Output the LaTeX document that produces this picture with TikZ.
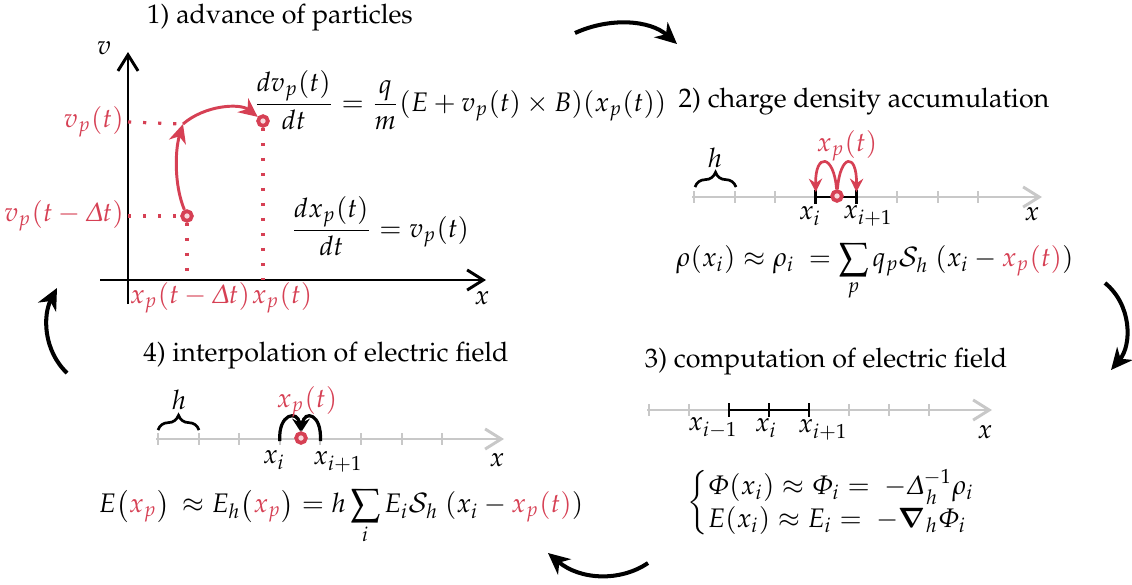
\documentclass[tikz,border=0pt]{standalone}
\usepackage[T1]{fontenc}
\usepackage{amsmath}
\usepackage[slantedGreek]{mathpazo}
\usetikzlibrary{arrows.meta,decorations.pathreplacing}
\definecolor{pred}{RGB}{214,64,84}
\definecolor{agray}{RGB}{200,200,200}
\tikzset{
  cyc/.style={line width=1.5pt,-{Stealth[length=8pt,width=7.5pt,inset=2.5pt]}},
  axisb/.style={line width=1.1pt,-{Straight Barb[length=6pt,width=7.5pt]}},
  gaxis/.style={agray,line width=1.1pt,-{Straight Barb[length=6pt,width=7.5pt]}},
  gtick/.style={agray,line width=0.8pt},
  btick/.style={black,line width=1pt},
  bline/.style={black,line width=1.1pt},
  pdotted/.style={pred,line width=1.2pt,dash pattern=on 1.2pt off 4.4pt},
  rarr/.style={pred,line width=1.1pt,-{Stealth[length=7pt,width=6.5pt,inset=2.2pt]}},
  rarrs/.style={pred,line width=1pt,-{Stealth[length=5pt,width=5pt,inset=1.7pt]}},
  barr/.style={black,line width=1.2pt,-{Stealth[length=5pt,width=5pt,inset=1.7pt]}},
  pdot/.style={circle,draw=pred,line width=1.4pt,fill=pred!20!white,minimum size=3.6pt,inner sep=0pt},
  hbrace/.style={decorate,decoration={brace,amplitude=5.5pt},line width=1pt},
  lbl/.style={inner sep=1pt},
}
\begin{document}
\begin{tikzpicture}[x=0.3725pt,y=-0.3725pt]
\useasboundingbox (0,0) rectangle (1132,584);

% ---------- cycle arrows ----------
\coordinate (c1s) at (575,33);   \coordinate (c1e) at (677,44);
\coordinate (c2s) at (1105,283); \coordinate (c2e) at (1111,370);
\coordinate (c3s) at (648,563);  \coordinate (c3e) at (548,553);
\coordinate (c4s) at (67,373);   \coordinate (c4e) at (57,288);
\draw[cyc] (c1s) .. controls (610,17) and (650,20) .. (c1e);
\draw[cyc] (c2s) .. controls (1132,305) and (1132,345) .. (c2e);
\draw[cyc] (c3s) .. controls (620,582) and (580,580) .. (c3e);
\draw[cyc] (c4s) .. controls (43,350) and (43,315) .. (c4e);

% ---------- panel 1 ----------
\node[lbl] (t1) at (280,18) {1) advance of particles};
\coordinate (vbot) at (128,304); \coordinate (vtop) at (128,52);
\coordinate (xlft) at (100,280); \coordinate (xrgt) at (486,280);
\draw[axisb] (vbot) -- (vtop);
\draw[axisb] (xlft) -- (xrgt);
\node[lbl] (vlab) at (104,48) {$v$};
\node[lbl] (xlab) at (482,298) {$x$};
\node[pdot] (P0) at (187,216) {};
\node[pdot] (P1) at (263,121) {};
\coordinate (bend) at (183,124);
\coordinate (h1) at (128,122);
\coordinate (h0) at (128,216);
\coordinate (f0) at (187,280);
\coordinate (f1) at (263,280);
\draw[pdotted] (h1) -- (bend);
\draw[pdotted] (h0) -- (P0);
\draw[pdotted] (P0) -- (f0);
\draw[pdotted] (P1) -- (f1);
\draw[rarr] (P0) .. controls (174,185) and (175,150) .. (bend);
\draw[rarr] (bend) .. controls (205,105) and (240,103) .. (P1);
\node[lbl,pred,anchor=east] (lvp) at (127,122) {$v_p(t)$};
\node[lbl,pred,anchor=east] (lvp0) at (127,216) {$v_p(t-\Delta t)$};
\node[lbl,pred] (lxp0) at (190,298) {$x_p(t-\Delta t)$};
\node[lbl,pred] (lxp) at (282,298) {$x_p(t)$};
\node[lbl] (eq1) at (460,100) {$\dfrac{dv_p(t)}{dt} = \dfrac{q}{m}(E+v_p(t)\times B)(x_p(t))$};
\node[lbl] (eq2) at (380,226) {$\dfrac{dx_p(t)}{dt} = v_p(t)$};

% ---------- panel 2 ----------
\node[lbl] (t2) at (864,102) {2) charge density accumulation};
\coordinate (a2s) at (692,197); \coordinate (a2e) at (1042,197);
\draw[gaxis] (a2s) -- (a2e);
\foreach \k in {0,...,7} \draw[gtick] ({694+40.6*\k},191) -- ({694+40.6*\k},203);
\coordinate (xi2) at (815.8,197); \coordinate (xj2) at (856.4,197);
\draw[bline] (xi2) -- (xj2);
\draw[btick] (815.8,190) -- (815.8,204);
\draw[btick] (856.4,190) -- (856.4,204);
\coordinate (xi2t) at (815.8,192); \coordinate (xj2t) at (856.4,192);
\node[pdot] (c2) at (837,196) {};
\draw[rarrs] (c2) .. controls (834,154) and (815,152) .. (xi2t);
\draw[rarrs] (c2) .. controls (840,154) and (857,152) .. (xj2t);
\draw[hbrace] (695,187) -- (736,187);
\node[lbl] (h2) at (715,158) {$h$};
\node[lbl,pred] (xp2) at (847,146) {$x_p(t)$};
\node[lbl] (lxi2) at (810,216) {$x_i$};
\node[lbl] (lxj2) at (868,216) {$x_{i+1}$};
\node[lbl] (lx2) at (1032,214) {$x$};
\node[lbl] (eq3) at (875,272) {$\displaystyle \rho(x_i)\approx\rho_i\ = \sum_p q_p\mathcal{S}_h\ (x_i-\textcolor{pred}{x_p(t)})$};

% ---------- panel 3 ----------
\node[lbl] (t3) at (826,362) {3) computation of electric field};
\coordinate (a3s) at (647,410); \coordinate (a3e) at (992,410);
\draw[gaxis] (a3s) -- (a3e);
\foreach \k in {0,...,7} \draw[gtick] ({649+40*\k},404) -- ({649+40*\k},416);
\coordinate (xa3) at (729,410); \coordinate (xc3) at (809,410);
\draw[bline] (xa3) -- (xc3);
\foreach \xx in {729,769,809} \draw[btick] (\xx,403) -- (\xx,417);
\node[lbl] (lxh3) at (713,428) {$x_{i-1}$};
\node[lbl] (lxi3) at (766,428) {$x_i$};
\node[lbl] (lxj3) at (823,430) {$x_{i+1}$};
\node[lbl] (lx3) at (985,432) {$x$};
\node[lbl] (eq4) at (832,503) {$\left\{\begin{array}{@{}l@{}}\Phi(x_i)\approx\Phi_i = \ -\Delta_h^{-1}\rho_i\\ E(x_i)\approx E_i = \ -\boldsymbol{\nabla}_h\Phi_i\end{array}\right.$};

% ---------- panel 4 ----------
\node[lbl] (t4) at (326,356) {4) interpolation of electric field};
\coordinate (a4s) at (156,439); \coordinate (a4e) at (504,439);
\draw[gaxis] (a4s) -- (a4e);
\foreach \k in {0,...,7} \draw[gtick] ({158+40.6*\k},433) -- ({158+40.6*\k},445);
\coordinate (xi4t) at (279.8,441); \coordinate (xj4t) at (320.4,441);
\node[pdot] (c4) at (301,438) {};
\draw[barr] (xi4t) .. controls (278,413) and (298,410) .. (c4);
\draw[barr] (xj4t) .. controls (322,413) and (304,410) .. (c4);
\draw[hbrace] (158,430) -- (199,430);
\node[lbl] (h4) at (179,400) {$h$};
\node[lbl,pred] (xp4) at (307,402) {$x_p(t)$};
\node[lbl] (lxi4) at (274,460) {$x_i$};
\node[lbl] (lxj4) at (338,462) {$x_{i+1}$};
\node[lbl] (lx4) at (497,460) {$x$};
\node[lbl] (eq5) at (341,517) {$\displaystyle E\bigl(\textcolor{pred}{x_p}\bigr)\,\approx E_h\bigl(\textcolor{pred}{x_p}\bigr) = h\sum_i E_i\mathcal{S}_h\ (x_i-\textcolor{pred}{x_p(t)})$};
\end{tikzpicture}
\end{document}
